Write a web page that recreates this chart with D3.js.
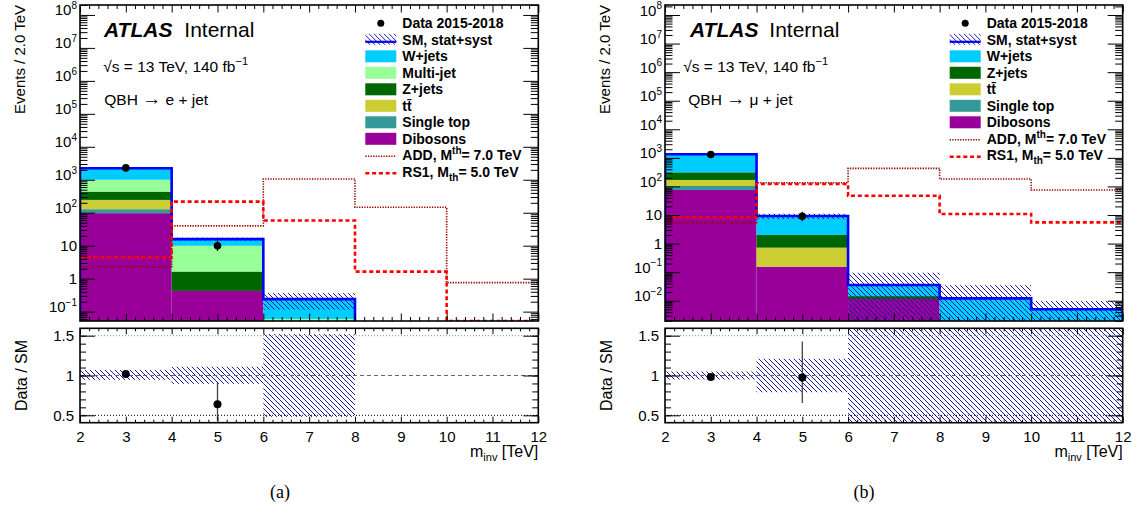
<!DOCTYPE html>
<html>
<head>
<meta charset="utf-8">
<script src="https://cdn.jsdelivr.net/npm/d3@7"></script>
<style>
body { margin: 0; background: #fff; }
svg text { font-family: "Liberation Sans", Arial, Helvetica, sans-serif; fill: #000; }
</style>
</head>
<body>
<div id="chart"></div>
<script>
// bins and ticks
const binEdges = [2, 4, 6, 8, 10, 12];
const xTickValues = [2, 3, 4, 5, 6, 7, 8, 9, 10, 11, 12];

// (a) QBH -> e + jet
const eWjets    = [1240, 5.9, 0.18, 0, 0];
const eMultijet = [563, 8.3, 0.06, 0, 0];
const eZjets    = [192, 1.22, 0, 0, 0];
const eTtbar    = [117, 0, 0, 0, 0];
const eSingleTop = [31, 0, 0, 0, 0];
const eDibosons = [97, 0.425, 0, 0, 0];
const eData     = [2290, 10, null, null, null];
const eDataLo   = [2242, 6.9, null, null, null];
const eDataHi   = [2338, 14.3, null, null, null];
const eRatio    = [1.02, 0.64, null, null, null];
const eRatioLo  = [1.0, 0.43, null, null, null];
const eRatioHi  = [1.04, 0.92, null, null, null];
const eBandLo   = [0.945, 0.895, 0.48, null, null];
const eBandHi   = [1.07, 1.11, 1.52, null, null];
const eADD      = [2.3, 40, 1060, 147, 0.76];
const eRS1      = [4.5, 218, 58, 1.64, 0.03];

// (b) QBH -> mu + jet
const mWjets    = [1019, 7.2, 0.021, 0.0121, 0.005];
const mZjets    = [143, 1.28, 0.003, 0, 0];
const mTtbar    = [65, 0.565, 0, 0, 0];
const mSingleTop = [28.5, 0, 0, 0, 0];
const mDibosons = [75, 0.155, 0.0115, 0, 0];
const mData     = [1305, 9, null, null, null];
const mDataLo   = [1269, 6.04, null, null, null];
const mDataHi   = [1341, 13.1, null, null, null];
const mRatio    = [0.98, 0.975, null, null, null];
const mRatioLo  = [0.955, 0.654, null, null, null];
const mRatioHi  = [1.005, 1.427, null, null, null];
const mBandLo   = [0.95, 0.79, 0, 0, 0];
const mBandHi   = [1.05, 1.21, 2.68, 2.9, 1.96];
const mADD      = [5.4, 135, 430, 182, 75];
const mRS1      = [8.3, 122, 47, 10.8, 5.5];

const bkgColors = {
    'W+jets': '#00ccff',
    'Multi-jet': '#99ff99',
    'Z+jets': '#006600',
    'ttbar': '#cccc33',
    'Single top': '#339999',
    'Dibosons': '#990099'
};

const FONT = '"Liberation Sans", Arial, Helvetica, sans-serif';

const svg = d3.select('#chart')
    .append('svg')
    .attr('width', 1140)
    .attr('height', 512);

// hatch used for the SM uncertainty
svg.append('defs')
    .append('pattern')
    .attr('id', 'hatch')
    .attr('patternUnits', 'userSpaceOnUse')
    .attr('width', 5)
    .attr('height', 5)
    .append('path')
    .attr('d', 'M0,0 L5,5 M-1,4 L1,6 M4,-1 L6,1')
    .attr('stroke', '#1a1aa8')
    .attr('stroke-width', 1);

// text with _{sub} and ^{sup} parts
function richText(sel, str, size) {
    const re = /([_^])\{([^}]*)\}/g;
    let parts = [], last = 0, m;
    while ((m = re.exec(str)) !== null) {
        if (m.index > last) parts.push({ t: str.slice(last, m.index), off: 0 });
        parts.push({ t: m[2], off: m[1] === '_' ? size * 0.3 : -size * 0.42, small: true });
        last = re.lastIndex;
    }
    if (last < str.length) parts.push({ t: str.slice(last), off: 0 });
    let shift = 0;
    parts.forEach(p => {
        const ts = sel.append('tspan').text(p.t).attr('dy', (p.off - shift) + 'px');
        if (p.small) ts.attr('font-size', Math.round(size * 0.68) + 'px');
        shift = p.off;
    });
}

class HistPanel {
    constructor(_config, data) {
        this.config = {
            id: _config.id,
            left: _config.left,
            right: _config.right,
            mainTop: 5,
            mainBottom: 321,
            ratioTop: 328.3,
            ratioBottom: 422.7,
            yDomain: _config.yDomain,
            yMajors: _config.yMajors,
            keys: _config.keys,
            texts: _config.texts,
            legend: _config.legend,
            caption: _config.caption
        };
        this.data = data;
        this.initVis();
    }

    initVis() {
        let vis = this;
        const c = vis.config;

        vis.x = d3.scaleLinear().domain([2, 12]).range([c.left, c.right]);
        vis.y = d3.scaleLog().domain(c.yDomain).range([c.mainBottom, c.mainTop]).clamp(true);
        vis.yr = d3.scaleLinear().domain([0.407, 1.593]).range([c.ratioBottom, c.ratioTop]).clamp(true);

        vis.g = svg.append('g');

        const defs = svg.select('defs');
        defs.append('clipPath').attr('id', c.id + '-main')
            .append('rect')
            .attr('x', c.left).attr('y', c.mainTop)
            .attr('width', c.right - c.left).attr('height', c.mainBottom - c.mainTop);
        defs.append('clipPath').attr('id', c.id + '-ratio')
            .append('rect')
            .attr('x', c.left).attr('y', c.ratioTop)
            .attr('width', c.right - c.left).attr('height', c.ratioBottom - c.ratioTop);

        vis.main = vis.g.append('g').attr('clip-path', `url(#${c.id}-main)`);
        vis.ratio = vis.g.append('g').attr('clip-path', `url(#${c.id}-ratio)`);

        vis.renderMain();
        vis.renderRatio();
        vis.renderAxes();
        vis.renderTexts();
        vis.renderLegend();
    }

    renderMain() {
        let vis = this;
        const c = vis.config;

        const rows = binEdges.slice(0, -1).map((lo, i) => {
            let r = { lo: lo, hi: binEdges[i + 1] };
            c.keys.forEach(k => r[k] = vis.data.bkg[k][i]);
            return r;
        });
        const series = d3.stack().keys(c.keys)(rows);
        vis.totals = rows.map((r, i) => series[series.length - 1][i][1]);

        // stacked backgrounds
        vis.main.selectAll('g.layer')
            .data(series)
            .join('g')
            .attr('class', 'layer')
            .attr('fill', d => bkgColors[d.key])
            .selectAll('rect')
            .data(d => d.map((s, i) => ({ y0: s[0], y1: s[1], lo: rows[i].lo, hi: rows[i].hi }))
                .filter(s => s.y1 > s.y0))
            .join('rect')
            .attr('x', d => vis.x(d.lo))
            .attr('width', d => vis.x(d.hi) - vis.x(d.lo))
            .attr('y', d => vis.y(d.y1))
            .attr('height', d => vis.y(d.y0) - vis.y(d.y1));

        // uncertainty band
        const band = rows.map((r, i) => ({ lo: r.lo, hi: r.hi, t: vis.totals[i], bLo: vis.data.bandLo[i], bHi: vis.data.bandHi[i] }))
            .filter(d => d.t > 0 && d.bHi != null);
        vis.main.selectAll('rect.band')
            .data(band)
            .join('rect')
            .attr('class', 'band')
            .attr('x', d => vis.x(d.lo))
            .attr('width', d => vis.x(d.hi) - vis.x(d.lo))
            .attr('y', d => vis.y(d.t * d.bHi))
            .attr('height', d => vis.y(d.t * d.bLo) - vis.y(d.t * d.bHi))
            .attr('fill', 'url(#hatch)');

        // SM total outline
        let pts = [[binEdges[0], 0]];
        vis.totals.forEach((t, i) => pts.push([binEdges[i], t]));
        pts.push([binEdges[binEdges.length - 1], 0]);
        while (pts.length > 2 && pts[pts.length - 1][1] === 0 && pts[pts.length - 2][1] === 0) pts.pop();
        const step = d3.line().x(d => vis.x(d[0])).y(d => vis.y(d[1])).curve(d3.curveStepAfter);
        vis.main.append('path')
            .attr('d', step(pts))
            .attr('fill', 'none')
            .attr('stroke', '#0000ff')
            .attr('stroke-width', 2.6);

        // signals
        const sigPts = vals => vals.map((v, i) => [binEdges[i], v]).concat([[binEdges[binEdges.length - 1], vals[vals.length - 1]]]);
        vis.main.append('path')
            .attr('d', step(sigPts(vis.data.add)))
            .attr('fill', 'none')
            .attr('stroke', '#990000')
            .attr('stroke-width', 1.6)
            .attr('stroke-dasharray', '1.3,1.3');
        vis.main.append('path')
            .attr('d', step(sigPts(vis.data.rs1)))
            .attr('fill', 'none')
            .attr('stroke', '#ff0000')
            .attr('stroke-width', 2.6)
            .attr('stroke-dasharray', '4,2.8');

        // data
        const pts2 = vis.data.data.map((v, i) => ({ v: v, lo: vis.data.dataLo[i], hi: vis.data.dataHi[i], xc: (binEdges[i] + binEdges[i + 1]) / 2 }))
            .filter(d => d.v != null);
        vis.main.selectAll('line.err')
            .data(pts2)
            .join('line')
            .attr('class', 'err')
            .attr('x1', d => vis.x(d.xc)).attr('x2', d => vis.x(d.xc))
            .attr('y1', d => vis.y(d.lo)).attr('y2', d => vis.y(d.hi))
            .attr('stroke', '#000').attr('stroke-width', 1.2);
        vis.main.selectAll('circle.pt')
            .data(pts2)
            .join('circle')
            .attr('class', 'pt')
            .attr('cx', d => vis.x(d.xc))
            .attr('cy', d => vis.y(d.v))
            .attr('r', 3.8)
            .attr('fill', '#000');
    }

    renderRatio() {
        let vis = this;
        const c = vis.config;

        const band = binEdges.slice(0, -1).map((lo, i) => ({ lo: lo, hi: binEdges[i + 1], bLo: vis.data.bandLo[i], bHi: vis.data.bandHi[i] }))
            .filter(d => d.bHi != null);
        vis.ratio.selectAll('rect.band')
            .data(band)
            .join('rect')
            .attr('class', 'band')
            .attr('x', d => vis.x(d.lo))
            .attr('width', d => vis.x(d.hi) - vis.x(d.lo))
            .attr('y', d => vis.yr(d.bHi))
            .attr('height', d => vis.yr(d.bLo) - vis.yr(d.bHi))
            .attr('fill', 'url(#hatch)');

        // reference lines
        const refs = [
            { v: 1.5, color: '#888', dash: '1,2' },
            { v: 1, color: '#666', dash: '4,3' },
            { v: 0.5, color: '#000', dash: '1,2' }
        ];
        vis.ratio.selectAll('line.ref')
            .data(refs)
            .join('line')
            .attr('class', 'ref')
            .attr('x1', c.left).attr('x2', c.right)
            .attr('y1', d => vis.yr(d.v)).attr('y2', d => vis.yr(d.v))
            .attr('stroke', d => d.color)
            .attr('stroke-width', 1)
            .attr('stroke-dasharray', d => d.dash);

        const pts = vis.data.ratio.map((v, i) => ({ v: v, lo: vis.data.ratioLo[i], hi: vis.data.ratioHi[i], xc: (binEdges[i] + binEdges[i + 1]) / 2 }))
            .filter(d => d.v != null);
        vis.ratio.selectAll('line.err')
            .data(pts)
            .join('line')
            .attr('class', 'err')
            .attr('x1', d => vis.x(d.xc)).attr('x2', d => vis.x(d.xc))
            .attr('y1', d => vis.yr(d.lo)).attr('y2', d => vis.yr(d.hi))
            .attr('stroke', '#444').attr('stroke-width', 1.3);
        vis.ratio.selectAll('circle.pt')
            .data(pts)
            .join('circle')
            .attr('class', 'pt')
            .attr('cx', d => vis.x(d.xc))
            .attr('cy', d => vis.yr(d.v))
            .attr('r', 4)
            .attr('fill', '#000');
    }

    renderAxes() {
        let vis = this;
        const c = vis.config;
        const ax = vis.g.append('g');

        const xMinor = d3.range(2, 12.001, 0.2).filter(v => Math.abs(v - Math.round(v)) > 0.01);
        const [lgLo, lgHi] = c.yDomain.map(Math.log10);
        let yMinor = [];
        for (let e = Math.floor(lgLo); e <= Math.ceil(lgHi); e++) {
            for (let k = 2; k <= 9; k++) {
                const v = k * Math.pow(10, e);
                if (v >= c.yDomain[0] && v <= c.yDomain[1]) yMinor.push(v);
            }
        }
        const rMinor = d3.range(0.5, 1.501, 0.1);

        const put = (axis, tx, ty) => {
            const s = ax.append('g').attr('transform', `translate(${tx},${ty})`).call(axis);
            s.select('.domain').remove();
            s.selectAll('line').attr('stroke', '#000').attr('stroke-width', 1);
            s.selectAll('text').attr('font-family', FONT).attr('font-size', '15px').attr('fill', '#000');
            return s;
        };
        const noLab = () => '';

        // main pad
        const yl = put(d3.axisLeft(vis.y).tickValues(c.yMajors).tickSize(-15).tickPadding(3).tickFormat(noLab), c.left, 0);
        yl.selectAll('.tick text').each(function (d) {
            const e = Math.round(Math.log10(d));
            const t = d3.select(this);
            if (e === 0) t.text('1');
            else if (e === 1) t.text('10');
            else richText(t, '10^{' + (e < 0 ? '\u2212' + (-e) : e) + '}', 15);
        });
        put(d3.axisLeft(vis.y).tickValues(yMinor).tickSize(-7.5).tickFormat(noLab), c.left, 0);
        put(d3.axisRight(vis.y).tickValues(c.yMajors).tickSize(-15).tickFormat(noLab), c.right, 0);
        put(d3.axisRight(vis.y).tickValues(yMinor).tickSize(-7.5).tickFormat(noLab), c.right, 0);
        put(d3.axisBottom(vis.x).tickValues(xTickValues).tickSize(-7.5).tickFormat(noLab), 0, c.mainBottom);
        put(d3.axisBottom(vis.x).tickValues(xMinor).tickSize(-4).tickFormat(noLab), 0, c.mainBottom);
        put(d3.axisTop(vis.x).tickValues(xTickValues).tickSize(-7.5).tickFormat(noLab), 0, c.mainTop);
        put(d3.axisTop(vis.x).tickValues(xMinor).tickSize(-4).tickFormat(noLab), 0, c.mainTop);

        // ratio pad
        put(d3.axisLeft(vis.yr).tickValues([0.5, 1, 1.5]).tickSize(-15).tickPadding(6).tickFormat(d3.format('')), c.left, 0);
        put(d3.axisLeft(vis.yr).tickValues(rMinor).tickSize(-6).tickFormat(noLab), c.left, 0);
        put(d3.axisRight(vis.yr).tickValues([0.5, 1, 1.5]).tickSize(-15).tickFormat(noLab), c.right, 0);
        put(d3.axisRight(vis.yr).tickValues(rMinor).tickSize(-6).tickFormat(noLab), c.right, 0);
        put(d3.axisBottom(vis.x).tickValues(xTickValues).tickSize(-6).tickPadding(8.5).tickFormat(d3.format('d')), 0, c.ratioBottom);
        put(d3.axisBottom(vis.x).tickValues(xMinor).tickSize(-3).tickFormat(noLab), 0, c.ratioBottom);
        put(d3.axisTop(vis.x).tickValues(xTickValues).tickSize(-6).tickFormat(noLab), 0, c.ratioTop);
        put(d3.axisTop(vis.x).tickValues(xMinor).tickSize(-3).tickFormat(noLab), 0, c.ratioTop);

        // frames
        [[c.mainTop, c.mainBottom], [c.ratioTop, c.ratioBottom]].forEach(([t, b]) => {
            ax.append('rect')
                .attr('x', c.left).attr('y', t)
                .attr('width', c.right - c.left).attr('height', b - t)
                .attr('fill', 'none').attr('stroke', '#000').attr('stroke-width', 1.6);
        });

        // axis titles
        ax.append('text')
            .attr('transform', `translate(${c.left - 55},${c.mainTop}) rotate(-90)`)
            .attr('text-anchor', 'end')
            .attr('font-size', '15px')
            .text('Events / 2.0 TeV');
        ax.append('text')
            .attr('transform', `translate(${c.left - 53},${(c.ratioTop + c.ratioBottom) / 2}) rotate(-90)`)
            .attr('text-anchor', 'middle')
            .attr('font-size', '16px')
            .text('Data / SM');
        const xt = ax.append('text')
            .attr('x', c.right).attr('y', 456.5)
            .attr('text-anchor', 'end')
            .attr('font-size', '16px');
        richText(xt, 'm_{inv} [TeV]', 16);
    }

    renderTexts() {
        let vis = this;
        const t = vis.config.texts;
        const atlas = vis.g.append('g');
        atlas.append('text')
            .attr('x', t.atlasX).attr('y', 36.5)
            .attr('font-size', '21px')
            .attr('font-weight', 'bold')
            .attr('font-style', 'italic')
            .text('ATLAS');
        atlas.append('text')
            .attr('x', t.internalX).attr('y', 36.5)
            .attr('font-size', '21px')
            .text('Internal');
        const lumi = atlas.append('text')
            .attr('x', t.lumiX).attr('y', 71.5)
            .attr('font-size', '15.5px');
        richText(lumi, '\u221As = 13 TeV, 140 fb^{\u22121}', 15.5);
        const chan = atlas.append('text')
            .attr('x', t.chanX).attr('y', 105)
            .attr('font-size', '15.5px');
        chan.append('tspan').text('QBH ');
        chan.append('tspan').attr('font-size', '19px').text('\u2192');
        chan.append('tspan').text(t.channel);

        svg.append('text')
            .attr('x', vis.config.caption.x).attr('y', 498)
            .attr('text-anchor', 'middle')
            .style('font-family', '"Liberation Serif", "Times New Roman", serif')
            .attr('font-size', '18px')
            .text(vis.config.caption.text);
    }

    renderLegend() {
        let vis = this;
        const c = vis.config;
        const x0 = c.right - 173, x1 = c.right - 142, tx = c.right - 136;
        const leg = vis.g.append('g');

        const rows = leg.selectAll('g.entry')
            .data(c.legend)
            .join('g')
            .attr('class', 'entry')
            .attr('transform', (d, i) => `translate(0,${23.3 + i * 16.5})`);

        rows.each(function (d) {
            const r = d3.select(this);
            if (d.type === 'data') {
                r.append('circle').attr('cx', (x0 + x1) / 2).attr('cy', 0).attr('r', 3.5).attr('fill', '#000');
            } else if (d.type === 'band') {
                r.append('rect').attr('x', x0).attr('y', -6).attr('width', x1 - x0).attr('height', 11)
                    .attr('fill', 'url(#hatch)');
                r.append('line').attr('x1', x0).attr('x2', x1).attr('y1', 2).attr('y2', 2)
                    .attr('stroke', '#0000ff').attr('stroke-width', 2.2);
            } else if (d.type === 'fill') {
                r.append('rect').attr('x', x0).attr('y', -6).attr('width', x1 - x0).attr('height', 12)
                    .attr('fill', bkgColors[d.key]);
            } else if (d.type === 'add') {
                r.append('line').attr('x1', x0).attr('x2', x1).attr('y1', 1).attr('y2', 1)
                    .attr('stroke', '#990000').attr('stroke-width', 1.6).attr('stroke-dasharray', '1.3,1.3');
            } else if (d.type === 'rs1') {
                r.append('line').attr('x1', x0).attr('x2', x1).attr('y1', 1.5).attr('y2', 1.5)
                    .attr('stroke', '#ff0000').attr('stroke-width', 2.6).attr('stroke-dasharray', '4,2.8');
            }
            const t = r.append('text')
                .attr('x', tx).attr('y', 5)
                .attr('font-size', '14px')
                .attr('font-weight', 'bold');
            richText(t, d.label, 14);
        });
    }
}

const legendA = [
    { type: 'data', label: 'Data 2015-2018' },
    { type: 'band', label: 'SM, stat+syst' },
    { type: 'fill', key: 'W+jets', label: 'W+jets' },
    { type: 'fill', key: 'Multi-jet', label: 'Multi-jet' },
    { type: 'fill', key: 'Z+jets', label: 'Z+jets' },
    { type: 'fill', key: 'ttbar', label: 'tt\u0304' },
    { type: 'fill', key: 'Single top', label: 'Single top' },
    { type: 'fill', key: 'Dibosons', label: 'Dibosons' },
    { type: 'add', label: 'ADD, M^{th}= 7.0 TeV' },
    { type: 'rs1', label: 'RS1, M_{th}= 5.0 TeV' }
];
const legendB = legendA.filter(d => d.key !== 'Multi-jet');

new HistPanel({
    id: 'ele',
    left: 80,
    right: 538.3,
    yDomain: [0.052, 2e8],
    yMajors: [0.1, 1, 10, 1e2, 1e3, 1e4, 1e5, 1e6, 1e7, 1e8],
    keys: ['Dibosons', 'Single top', 'ttbar', 'Z+jets', 'Multi-jet', 'W+jets'],
    texts: { atlasX: 104, internalX: 184.3, lumiX: 103.3, chanX: 104.3, channel: ' e + jet' },
    legend: legendA,
    caption: { x: 280, text: '(a)' }
}, {
    bkg: { 'W+jets': eWjets, 'Multi-jet': eMultijet, 'Z+jets': eZjets, 'ttbar': eTtbar, 'Single top': eSingleTop, 'Dibosons': eDibosons },
    data: eData, dataLo: eDataLo, dataHi: eDataHi,
    ratio: eRatio, ratioLo: eRatioLo, ratioHi: eRatioHi,
    bandLo: eBandLo, bandHi: eBandHi,
    add: eADD, rs1: eRS1
});

new HistPanel({
    id: 'mu',
    left: 665,
    right: 1122.7,
    yDomain: [0.00195, 2.24e8],
    yMajors: [0.01, 0.1, 1, 10, 1e2, 1e3, 1e4, 1e5, 1e6, 1e7, 1e8],
    keys: ['Dibosons', 'Single top', 'ttbar', 'Z+jets', 'W+jets'],
    texts: { atlasX: 690, internalX: 769.3, lumiX: 683.3, chanX: 688.3, channel: ' \u03BC + jet' },
    legend: legendB,
    caption: { x: 864, text: '(b)' }
}, {
    bkg: { 'W+jets': mWjets, 'Z+jets': mZjets, 'ttbar': mTtbar, 'Single top': mSingleTop, 'Dibosons': mDibosons },
    data: mData, dataLo: mDataLo, dataHi: mDataHi,
    ratio: mRatio, ratioLo: mRatioLo, ratioHi: mRatioHi,
    bandLo: mBandLo, bandHi: mBandHi,
    add: mADD, rs1: mRS1
});
</script>
</body>
</html>
